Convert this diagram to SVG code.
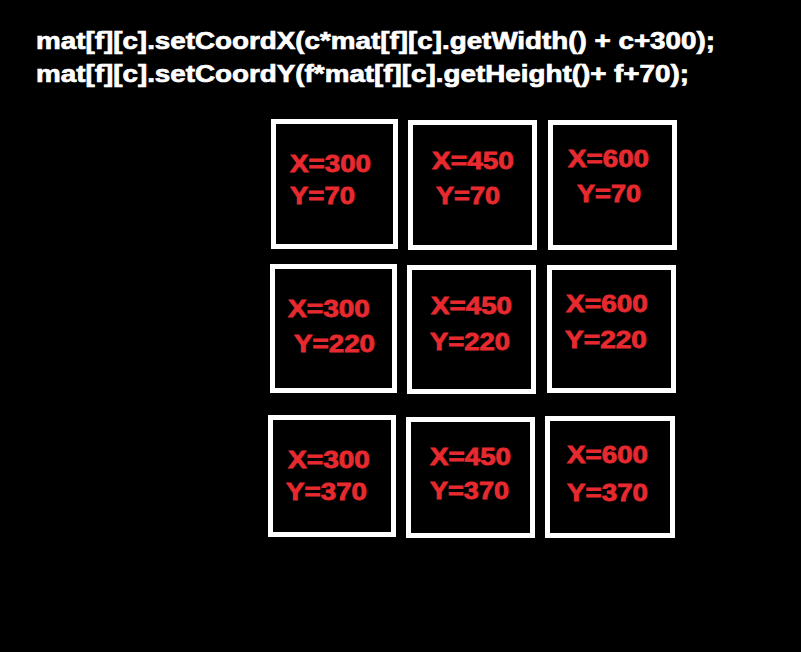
<svg xmlns="http://www.w3.org/2000/svg" width="801" height="652" viewBox="0 0 801 652">
<style>
.bg{fill:#000}
.box{fill:#000;stroke:#fff;stroke-width:5}
.code{fill:#fff;stroke:#fff;stroke-width:0.7;font-family:"Liberation Sans",Arial,sans-serif;font-weight:bold;font-size:23px}
.lbl{fill:#e62a2f;stroke:#e62a2f;stroke-width:0.8;font-family:"Liberation Sans",Arial,sans-serif;font-weight:bold;font-size:23px}
</style>
<rect class="bg" x="0" y="0" width="801" height="652"/>
<g id="header">
<text class="code" x="36" y="49" textLength="679" lengthAdjust="spacingAndGlyphs">mat[f][c].setCoordX(c*mat[f][c].getWidth() + c+300);</text>
<text class="code" x="36" y="82" textLength="653" lengthAdjust="spacingAndGlyphs">mat[f][c].setCoordY(f*mat[f][c].getHeight()+ f+70);</text>
</g>
<g id="connectors"></g>
<g id="r1c1"><rect class="box" x="273.5" y="121.5" width="122" height="125"/>
<text class="lbl" x="290" y="172" textLength="81" lengthAdjust="spacingAndGlyphs">X=300</text>
<text class="lbl" x="290" y="204" textLength="65" lengthAdjust="spacingAndGlyphs">Y=70</text></g>
<g id="r1c2"><rect class="box" x="410.5" y="122.5" width="124" height="125"/>
<text class="lbl" x="432" y="169" textLength="82" lengthAdjust="spacingAndGlyphs">X=450</text>
<text class="lbl" x="436" y="204" textLength="64" lengthAdjust="spacingAndGlyphs">Y=70</text></g>
<g id="r1c3"><rect class="box" x="550.5" y="122.5" width="124" height="125"/>
<text class="lbl" x="568" y="167" textLength="81" lengthAdjust="spacingAndGlyphs">X=600</text>
<text class="lbl" x="577" y="202" textLength="64" lengthAdjust="spacingAndGlyphs">Y=70</text></g>
<g id="r2c1"><rect class="box" x="272.5" y="266.5" width="122" height="124"/>
<text class="lbl" x="288" y="317" textLength="82" lengthAdjust="spacingAndGlyphs">X=300</text>
<text class="lbl" x="294" y="352" textLength="81" lengthAdjust="spacingAndGlyphs">Y=220</text></g>
<g id="r2c2"><rect class="box" x="409.5" y="267.5" width="124" height="124"/>
<text class="lbl" x="431" y="314" textLength="81" lengthAdjust="spacingAndGlyphs">X=450</text>
<text class="lbl" x="430" y="350" textLength="80" lengthAdjust="spacingAndGlyphs">Y=220</text></g>
<g id="r2c3"><rect class="box" x="549.5" y="267.5" width="124" height="123"/>
<text class="lbl" x="566" y="312" textLength="82" lengthAdjust="spacingAndGlyphs">X=600</text>
<text class="lbl" x="565" y="348" textLength="82" lengthAdjust="spacingAndGlyphs">Y=220</text></g>
<g id="r3c1"><rect class="box" x="270.5" y="417.5" width="123" height="117"/>
<text class="lbl" x="288" y="468" textLength="82" lengthAdjust="spacingAndGlyphs">X=300</text>
<text class="lbl" x="286" y="500" textLength="81" lengthAdjust="spacingAndGlyphs">Y=370</text></g>
<g id="r3c2"><rect class="box" x="408.5" y="419.5" width="124" height="116"/>
<text class="lbl" x="430" y="465" textLength="81" lengthAdjust="spacingAndGlyphs">X=450</text>
<text class="lbl" x="430" y="499" textLength="79" lengthAdjust="spacingAndGlyphs">Y=370</text></g>
<g id="r3c3"><rect class="box" x="547.5" y="418.5" width="125" height="117"/>
<text class="lbl" x="567" y="463" textLength="81" lengthAdjust="spacingAndGlyphs">X=600</text>
<text class="lbl" x="567" y="501" textLength="81" lengthAdjust="spacingAndGlyphs">Y=370</text></g>
</svg>
